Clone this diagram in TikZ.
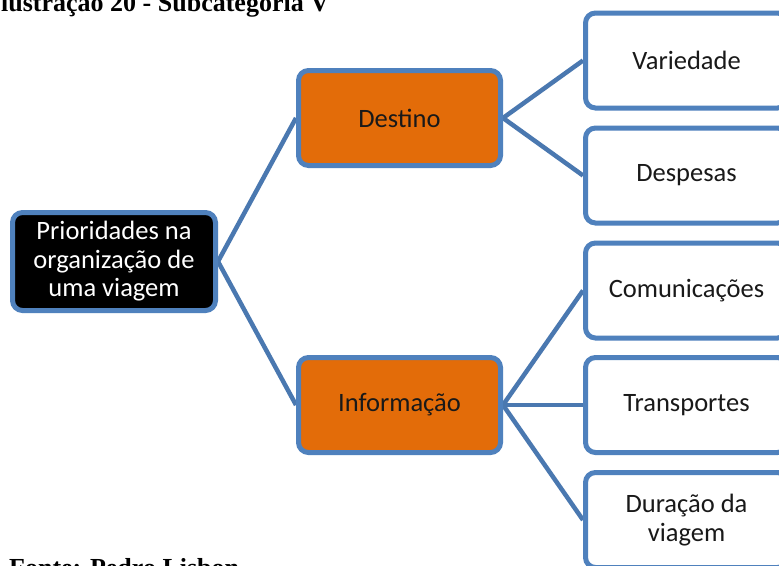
\documentclass[tikz,border=0pt]{standalone}
\usepackage{fontspec}
\setmainfont{Carlito}
\newfontfamily\captionfont{Liberation Serif}
\usetikzlibrary{positioning,backgrounds}
\definecolor{MapBlue}{HTML}{4F81BD}
\definecolor{MapLine}{HTML}{4A78B0}
\definecolor{MapOrange}{HTML}{E36C09}

\begin{document}
\begin{tikzpicture}[x=1pt, y=-1pt,
    root/.style={draw=MapBlue, fill=black, text=white, line width=5pt, rounded corners=10pt,
                 minimum width=203pt, minimum height=98pt, align=center,
                 font=\fontsize{26.5}{28.5}\selectfont},
    topic/.style={draw=MapBlue, fill=MapOrange, text=black!90, line width=5pt, rounded corners=10pt,
                  minimum width=202pt, minimum height=95pt, align=center,
                  font=\fontsize{26.5}{28.5}\selectfont},
    leaf/.style={draw=MapBlue, fill=white, text=black!90, line width=5pt, rounded corners=10pt,
                 minimum width=202pt, minimum height=95pt, align=center,
                 font=\fontsize{26.5}{29}\selectfont},
    link/.style={MapLine, line width=4.5pt},
    caption/.style={anchor=base west, inner sep=0pt,
                    font=\captionfont\bfseries\fontsize{26}{28}\selectfont},
  ]
    \useasboundingbox (0,0) rectangle (779,565);
    \clip (0,0) rectangle (779,565);
    \node[caption] (title) at (1,11) {lustração 20 - Subcategoria V};
    \node[caption] (source) at (9,576) {Fonte: Pedro Lisbon};
    \node[root] (prio) at (114,261.5) {Prioridades na\\organização de\\uma viagem};
    \node[topic] (dest) at (399.5,118) {Destino};
    \node[topic] (info) at (399.5,405) {Informação};
    \node[leaf] (vari) at (686.5,60.5)  {Variedade};
    \node[leaf] (desp) at (686.5,175.5) {Despesas};
    \node[leaf] (comu) at (686.5,290.5) {Comunicações};
    \node[leaf] (tran) at (686.5,405)   {Transportes};
    \node[leaf] (dura) at (686.5,520)   {Duração da\\viagem};
    \begin{scope}[on background layer]
      \fill[white] (0,0) rectangle (779,565);
      \draw[link] (prio.east) -- (dest.west);
      \draw[link] (prio.east) -- (info.west);
      \draw[link] (dest.east) -- (vari.west);
      \draw[link] (dest.east) -- (desp.west);
      \draw[link] (info.east) -- (comu.west);
      \draw[link] (info.east) -- (tran.west);
      \draw[link] (info.east) -- (dura.west);
    \end{scope}
  \end{tikzpicture}
\end{document}
